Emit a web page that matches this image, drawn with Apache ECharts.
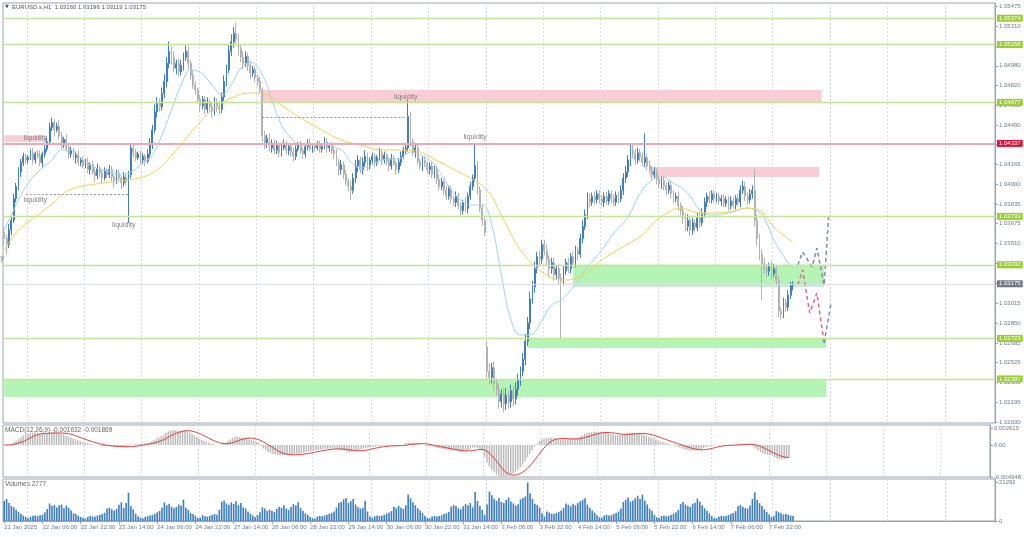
<!DOCTYPE html>
<html><head><meta charset="utf-8">
<script src="https://cdn.jsdelivr.net/npm/echarts/dist/echarts.min.js"></script>
<style>html,body{margin:0;padding:0;background:#fff;}#c{width:1024px;height:537px;}</style>
</head><body><div id="c"></div>
<script>
// ---------- data (prices in points: price = 1 + v/100000) ----------
const tickLabels = ['21 Jan 2025','22 Jan 06:00','22 Jan 22:00','23 Jan 14:00','24 Jan 06:00','24 Jan 22:00',
  '27 Jan 14:00','28 Jan 06:00','28 Jan 22:00','29 Jan 14:00','30 Jan 06:00','30 Jan 22:00','31 Jan 14:00',
  '3 Feb 06:00','3 Feb 22:00','4 Feb 14:00','5 Feb 06:00','5 Feb 22:00','6 Feb 14:00','7 Feb 06:00','7 Feb 22:00'];
const priceTicks = [1.05475,1.05310,1.05145,1.04980,1.04820,1.04655,1.04490,1.04330,1.04165,1.04000,1.03835,
  1.03675,1.03510,1.03345,1.03180,1.03015,1.02850,1.02685,1.02525,1.02360,1.02195,1.02030];
const firstOpen = 3600;
const gapOpens = {202: 2650};
const closes = [
  3550,3500,3620,3700,3880,3980,4100,4180,4230,4200,
  4220,4260,4200,4250,4230,4180,4250,4290,4350,4470,4510,4450,4480,4400,4330,4370,4300,4250,4280,4220,4240,4180,4200,4150,
  4180,4120,4160,4100,4070,4130,4090,4050,4110,4080,4120,4060,4030,4090,4050,4010,4060,4020,4080,4300,4260,4220,4250,4200,
  4230,4190,4250,4330,4450,4600,4680,4640,4750,4850,5000,5100,5050,4960,5000,4930,4980,5050,5100,5000,4900,4820,4780,4700,
  4650,4700,4620,4680,4640,4600,4680,4640,4620,4720,4850,4950,5100,5180,5250,5200,5120,5050,5000,5060,4980,4920,4950,4880,
  4850,4780,4400,4330,4380,4300,4340,4280,4320,4260,4300,4330,4280,4310,4260,4230,4290,4320,4280,4250,4310,4340,4290,4320,
  4300,4330,4290,4310,4350,4300,4320,4280,4250,4180,4120,4160,4080,4020,3980,3950,4050,4150,4200,4120,4180,4230,4150,4200,
  4230,4180,4220,4260,4200,4240,4190,4150,4210,4170,4120,4180,4230,4280,4300,4560,4350,4260,4300,4190,4150,4200,4170,4120,
  4150,4080,4120,4040,3980,4020,3950,3900,3960,3880,3850,3900,3820,3780,3850,3800,3900,3980,4050,4150,3950,3800,3700,3600,
  2450,2400,2480,2350,2300,2200,2260,2180,2250,2200,2290,2220,2300,2380,2450,2550,2700,2850,3050,3150,3300,3400,3380,3500,
  3450,3380,3300,3350,3250,3300,3220,3200,3280,3350,3300,3400,3350,3450,3420,3550,3650,3750,3880,3850,3900,3870,3920,3880,
  3850,3900,3860,3920,3880,3850,3910,3880,3950,4050,4100,4200,4280,4250,4200,4260,4230,4180,4220,4150,4120,4080,4100,4040,
  4000,4030,3980,3950,3990,3920,3880,3900,3820,3780,3720,3650,3700,3620,3680,3640,3720,3680,3750,3850,3900,3870,3920,3880,
  3900,3860,3880,3840,3870,3820,3860,3830,3880,3850,3950,3980,3900,3870,3920,3950,3700,3550,3420,3340,3300,3280,3320,3260,
  3300,3200,2950,2920,3020,2980,3080,3160,3175
];
// wick lengths above / below the body, in units of 10 points
const hiWick = [
  4,3,5,3,4,3,4,3,3,2,
  2,3,4,2,3,5,2,3,3,4,4,3,3,5,3,2,4,3,3,2,3,4,2,3,
  3,4,2,3,3,4,2,3,3,2,4,3,2,3,3,2,4,3,3,4,3,3,2,3,
  3,2,4,5,4,6,4,3,5,6,5,8,4,5,3,4,5,4,5,4,3,4,3,2,
  4,3,3,4,2,3,4,3,3,4,5,4,5,6,5,9,4,3,5,4,3,4,3,3,
  3,4,2,4,3,4,3,3,4,2,3,4,3,3,2,4,3,3,4,2,3,3,4,2,
  2,3,3,2,4,3,2,3,3,4,3,4,3,4,3,5,4,5,4,3,4,5,3,2,
  3,3,2,4,3,3,2,3,4,3,2,3,4,3,3,14,4,3,3,4,2,3,3,2,
  3,4,3,3,4,3,2,4,3,3,2,4,3,3,2,4,3,4,3,19,4,3,3,2,
  5,6,4,5,4,5,4,5,6,4,5,4,6,5,4,5,6,5,6,5,6,4,5,4,
  4,5,3,4,4,3,4,4,4,3,4,3,4,4,3,4,5,4,5,4,3,4,3,3,
  3,3,4,3,3,4,3,3,4,4,5,4,5,6,4,4,3,4,20,3,4,3,4,3,
  3,3,4,3,3,4,3,3,4,3,4,4,5,4,4,3,4,4,5,4,3,4,3,3,
  3,3,3,4,3,3,4,3,3,4,4,5,4,3,4,4,17,5,4,4,5,4,3,4,
  4,3,4,3,4,3,4,3,2
];
const loWick = [
  6,8,3,4,2,3,3,4,3,3,
  3,2,4,3,2,3,4,3,2,3,3,5,2,3,4,3,3,4,3,2,5,3,3,2,
  2,3,4,2,5,3,3,4,2,3,3,4,6,3,2,5,3,3,34,3,4,3,2,3,
  3,4,2,3,4,3,5,4,3,4,5,4,6,3,5,4,3,4,3,5,4,3,4,3,
  5,3,4,3,4,5,3,4,4,3,3,4,3,4,5,4,6,4,5,3,4,5,3,4,
  4,3,5,4,3,3,4,3,3,4,3,2,3,4,3,4,3,2,3,4,3,3,2,3,
  3,2,3,3,2,4,3,3,4,3,5,4,4,3,4,8,3,4,5,3,4,3,4,3,
  3,4,3,2,4,3,3,4,3,2,4,3,3,2,3,3,4,3,4,3,3,4,3,3,
  4,3,3,4,3,3,4,3,3,4,3,4,3,4,3,3,4,3,3,3,4,3,4,3,
  7,6,5,6,5,6,5,7,5,6,5,6,4,5,5,4,5,4,5,4,5,4,5,4,
  4,5,6,4,5,4,5,48,4,3,4,4,3,4,5,3,4,3,4,4,3,4,3,4,
  3,4,3,3,4,3,3,4,3,4,4,4,5,4,4,3,4,3,4,4,3,4,3,4,
  3,4,3,4,3,4,4,3,4,4,5,4,4,5,4,4,3,4,3,3,4,3,3,3,
  3,3,4,3,3,4,3,3,4,3,4,3,4,4,3,4,5,6,5,30,4,5,4,5,
  3,4,5,4,3,4,3,3,4
];
const volumes = [
  11000,12100,9800,8200,7500,6200,5000,3800,3000,2200,
  1500,2400,2800,3000,2600,3200,3500,4800,6500,9600,8200,8800,7400,8600,9000,7000,8400,7200,5800,4200,3800,2800,2200,1800,
  1400,2200,2800,2500,2300,3000,3400,3800,4500,6800,7200,6400,5800,6600,8900,10200,7200,9800,15500,8200,6400,4000,2600,1800,
  1500,2200,2600,3000,3400,3900,4800,5500,7200,10200,8600,9400,7800,6900,7600,9000,8400,11700,7200,6100,4300,3800,2900,1700,
  1800,3200,2600,2400,2800,3300,3800,3400,6000,10500,11200,9600,8800,10200,9400,10800,8600,9800,7400,6800,5200,4100,3000,2000,
  3200,4800,7500,6800,5400,6200,5600,4800,6600,7800,7200,8600,6800,6000,7600,9200,8400,10200,7000,5400,4200,3400,2200,1500,
  1400,2400,2800,2600,3000,3400,4000,4400,5200,7400,9800,10400,11800,12600,9800,10800,12000,9000,7600,6800,7200,11000,5200,2400,
  1800,2600,3000,2700,2900,3400,4100,4600,5400,7600,7000,8200,7200,6600,8600,14500,12400,10200,8600,7000,5800,4400,2800,1700,
  1600,2400,2700,2500,2800,3100,3800,4200,5000,7800,8800,8200,7000,6400,8000,9200,8600,9800,7400,15800,11000,8200,6000,3400,
  9000,16000,14000,12200,11000,12600,10400,9800,11400,12800,10600,9600,8400,9200,11800,12600,13400,21000,15200,12000,9400,8800,7400,4200,
  2400,5200,4600,4000,3800,4400,5000,5800,7200,9600,8800,8000,9400,8600,9800,10800,11600,12400,9000,7200,5800,4600,3200,2000,
  1800,3000,3400,3000,3200,3800,4400,5200,6800,10400,11600,12800,10600,11200,12400,13800,12000,14400,11200,9000,6800,5600,3400,2000,
  1600,2800,3000,2600,2800,3400,4000,4800,6000,9200,10400,9000,8200,7600,9400,10000,12200,10600,8600,7000,5600,4200,2800,1600,
  1500,2400,2800,2600,2700,3200,3800,4400,5400,8000,8800,7600,7000,6800,8400,12000,15600,11400,9800,8200,6400,5000,3600,2200,
  2600,5400,4800,4200,3600,3800,3400,3000,2777
];
// moving averages: [bar index, points]
const maFast = [[0,3620],[3,3744],[7,3910],[11,4034],[15,4117],[20,4200],[24,4283],[28,4283],[32,4216],[36,4158],
  [41,4117],[45,4100],[49,4076],[53,4100],[57,4158],[62,4241],[66,4407],[70,4614],[74,4821],[78,4945],[82,4928],
  [87,4821],[91,4738],[95,4821],[99,4962],[103,5011],[108,4904],[112,4697],[116,4490],[120,4382],[124,4324],[133,4324],
  [141,4283],[145,4183],[149,4133],[158,4200],[166,4216],[170,4266],[174,4241],[179,4183],[183,4076],[187,3951],
  [191,3868],[195,3827],[200,3827],[204,3661],[208,3247],[212,2875],[216,2751],[220,2751],[225,2875],[229,2999],
  [233,3040],[237,3123],[244,3314],[250,3454],[255,3595],[261,3728],[266,3926],[271,4034],[275,4059],[280,4009],
  [286,3926],[291,3786],[296,3744],[303,3761],[311,3802],[317,3744],[322,3537],[328,3347],[330,3305]];
const maSlow = [[0,3454],[6,3620],[13,3728],[21,3852],[27,3951],[41,4009],[52,4034],[62,4092],[71,4258],[79,4448],
  [87,4614],[95,4713],[103,4755],[110,4738],[116,4655],[124,4548],[133,4448],[141,4365],[149,4324],[158,4283],
  [166,4283],[174,4266],[179,4216],[187,4133],[195,4051],[202,3951],[208,3744],[216,3454],[225,3272],[233,3206],
  [241,3231],[250,3372],[258,3471],[267,3579],[272,3686],[278,3769],[283,3802],[289,3769],[295,3761],[303,3769],
  [311,3802],[317,3769],[322,3645],[330,3521]];
// levels, zones and drawn objects (price levels; zones: [fromBar, toBar, lowPts, highPts])
const greenLevels = [1.05374,1.05156,1.04677,1.03733,1.03332,1.02723,1.02387];
const redLevel = 1.04337;
const lastPrice = 1.03175;
const pinkZones = [[108,342,4677,4780],[0,18,4348,4405],[270,341,4059,4142]];
const greenZones = [[238,343,3150,3332],[219,344,2643,2723],[0,344,2237,2387]];
const liqLines = [[108,169,4556],[9,52,3918]];
const liqLabels = [[13,4382],[13,3868],[50,3661],[168,4721],[197,4390]];
const pathUp = [[332,3330],[334,3438],[338,3314],[340,3471],[343,3165],[345,3761]];
const pathDown = [[332,3165],[334,3289],[337,2933],[340,3098],[343,2684]];
const pathBounce = [[343,2684],[346,3024]];
const macdTicks = [0.002615, 0, -0.004948];
const volTicks = [21292, 0];

// ---------- build ----------
const N_SLOTS = 415;
const cats = Array.from({length: N_SLOTS}, (_, i) => String(i));
const P = v => 1 + v / 100000;
const ohlc = closes.map((c, i) => {
  const o = gapOpens[i] != null ? gapOpens[i] : (i === 0 ? firstOpen : closes[i - 1]);
  return [P(o), P(c), P(Math.min(o, c) - loWick[i] * 10), P(Math.max(o, c) + hiWick[i] * 10)];
});
const px = closes.map(P);
function ema(arr, n) { const k = 2 / (n + 1); let e = arr[0]; return arr.map((v, i) => i === 0 ? e : (e = v * k + e * (1 - k))); }
const e12 = ema(px, 12), e26 = ema(px, 26);
const macdMain = px.map((_, i) => e12[i] - e26[i]);
const macdSignal = macdMain.map((_, i) => { const w = macdMain.slice(Math.max(0, i - 8), i + 1); return w.reduce((a, b) => a + b, 0) / w.length; });
const toPrice = arr => arr.map(d => [d[0], P(d[1])]);

const FONT = 'Liberation Sans';
const gridSplit = { show: true, interval: (i) => (i - 10) % 24 === 0, lineStyle: { color: '#d9dde9', type: [2, 2], width: 1 } };
function xAx(g, labels) {
  return {
    type: 'category', gridIndex: g, data: cats, boundaryGap: true,
    axisLine: { show: labels, lineStyle: { color: '#9da3ad' } },
    axisTick: { show: labels, alignWithLabel: true, length: 3, interval: (i) => i % 16 === 0 && i / 16 < tickLabels.length, lineStyle: { color: '#9da3ad' } },
    axisLabel: { show: labels, interval: (i) => i % 16 === 0 && i / 16 < tickLabels.length,
      formatter: (v) => tickLabels[Number(v) / 16] || '', align: 'left', margin: 3, fontSize: 6, color: '#6f7d90', fontFamily: FONT },
    splitLine: gridSplit
  };
}
function yAx(g, min, max, ticks, fmt) {
  return {
    type: 'value', gridIndex: g, position: 'right', min: min, max: max,
    axisLine: { show: true, lineStyle: { color: '#9da3ad' } },
    axisTick: { show: true, length: 3, customValues: ticks, lineStyle: { color: '#9da3ad' } },
    axisLabel: { show: true, customValues: ticks, formatter: fmt, fontSize: 6, color: '#6f7d90', margin: 4, fontFamily: FONT },
    splitLine: { show: false }
  };
}
const lvlLabel = (bg) => ({ show: true, position: 'end', distance: 2, formatter: (p) => Number(p.value).toFixed(5),
  backgroundColor: bg, color: '#fff', fontSize: 6, padding: [1, 2, 0, 2], fontFamily: FONT });

const markLineData = [];
greenLevels.forEach(v => markLineData.push({ yAxis: v, lineStyle: { color: '#c3e494', width: 1.3, type: 'solid' }, label: lvlLabel('#9acd32') }));
markLineData.push({ yAxis: redLevel, lineStyle: { color: '#f1a7b6', width: 2, type: 'solid' }, label: lvlLabel('#dc143c') });
markLineData.push({ yAxis: lastPrice, lineStyle: { color: '#dcdcf2', width: 1, type: 'solid' }, label: lvlLabel('#6e7987') });
liqLines.forEach(l => markLineData.push([
  { coord: [l[0], P(l[2])], lineStyle: { color: '#9a9a9a', width: 1, type: [2, 2] }, label: { show: false } },
  { coord: [l[1], P(l[2])] }
]));

const areaData = [];
pinkZones.forEach(z => areaData.push([{ xAxis: z[0], yAxis: P(z[2]), itemStyle: { color: '#f9cdd6' } }, { xAxis: z[1], yAxis: P(z[3]) }]));
greenZones.forEach(z => areaData.push([{ xAxis: z[0], yAxis: P(z[2]), itemStyle: { color: '#b4f4b4' } }, { xAxis: z[1], yAxis: P(z[3]) }]));

const option = {
  animation: false,
  backgroundColor: '#ffffff',
  grid: [
    { left: 3, top: 3, width: 992, height: 420, show: true, borderColor: '#9da3ad', borderWidth: 1, backgroundColor: '#fff' },
    { left: 3, top: 425, width: 992, height: 52, show: true, borderColor: '#9da3ad', borderWidth: 1, backgroundColor: '#fff' },
    { left: 3, top: 479, width: 992, height: 42, show: true, borderColor: '#9da3ad', borderWidth: 1, backgroundColor: '#fff' }
  ],
  xAxis: [xAx(0, false), xAx(1, false), xAx(2, true)],
  yAxis: [
    yAx(0, 1.02022, 1.05500, priceTicks, (v) => v.toFixed(5)),
    yAx(1, -0.004948, 0.003077, macdTicks, (v) => v === 0 ? '0.00' : String(v)),
    yAx(2, 0, 22930, volTicks, (v) => String(v))
  ],
  series: [
    {
      type: 'candlestick', xAxisIndex: 0, yAxisIndex: 0, data: ohlc, barWidth: '58%',
      itemStyle: { color: '#3f7fbf', color0: '#b2b2b2', borderColor: '#3f7fbf', borderColor0: '#b2b2b2', borderWidth: 1 },
      markArea: { silent: true, data: areaData },
      markLine: { silent: true, precision: 5, symbol: ['none', 'none'], data: markLineData },
      markPoint: {
        silent: true, symbol: 'rect', symbolSize: 1, itemStyle: { color: 'rgba(0,0,0,0)' },
        label: { show: true, position: 'inside', formatter: 'liquidity', color: '#7f7f7f', fontSize: 7, fontFamily: FONT },
        data: liqLabels.map(d => ({ coord: [d[0], P(d[1])] }))
      }
    },
    { type: 'line', xAxisIndex: 0, yAxisIndex: 0, data: toPrice(maFast), showSymbol: false, smooth: 0.4,
      lineStyle: { color: '#9fd3ef', width: 1 } },
    { type: 'line', xAxisIndex: 0, yAxisIndex: 0, data: toPrice(maSlow), showSymbol: false, smooth: 0.4,
      lineStyle: { color: '#f4d24a', width: 1 } },
    { type: 'line', xAxisIndex: 0, yAxisIndex: 0, data: toPrice(pathUp), showSymbol: false,
      lineStyle: { color: '#7d8ca4', width: 1.5, type: [4, 3] } },
    { type: 'line', xAxisIndex: 0, yAxisIndex: 0, data: toPrice(pathDown), showSymbol: false,
      lineStyle: { color: '#e8628c', width: 1.5, type: [4, 3] } },
    { type: 'line', xAxisIndex: 0, yAxisIndex: 0, data: toPrice(pathBounce), showSymbol: false,
      lineStyle: { color: '#7d8ca4', width: 1.5, type: [4, 3] } },
    { type: 'bar', xAxisIndex: 1, yAxisIndex: 1, data: macdMain, barWidth: '60%', itemStyle: { color: '#b9b9b9' } },
    { type: 'line', xAxisIndex: 1, yAxisIndex: 1, data: macdSignal, showSymbol: false, lineStyle: { color: '#e23b3b', width: 1 } },
    { type: 'bar', xAxisIndex: 2, yAxisIndex: 2, data: volumes, barWidth: '68%', itemStyle: { color: '#3f7fbf' } }
  ],
  graphic: [
    { type: 'text', x: 5, y: 4, style: { text: '▼', fontSize: 5, fill: '#555', fontFamily: 'DejaVu Sans' } },
    { type: 'text', x: 12, y: 4, style: { text: 'EURUSD.s,H1  1.03160 1.03196 1.03119 1.03175', fontSize: 6, fill: '#555', fontFamily: FONT } },
    { type: 'text', x: 4, y: 258, style: { text: 'liquidity', fontSize: 7, fill: '#7f7f7f', align: 'right', verticalAlign: 'middle', fontFamily: FONT } },
    { type: 'text', x: 5, y: 427, style: { text: 'MACD(12,26,9) -0.001632 -0.001869', fontSize: 6.5, fill: '#666', fontFamily: FONT } },
    { type: 'text', x: 5, y: 481, style: { text: 'Volumes 2777', fontSize: 6.5, fill: '#666', fontFamily: FONT } }
  ]
};
const chart = echarts.init(document.getElementById('c'), null, { renderer: 'canvas' });
chart.setOption(option);
</script>
</body></html>
